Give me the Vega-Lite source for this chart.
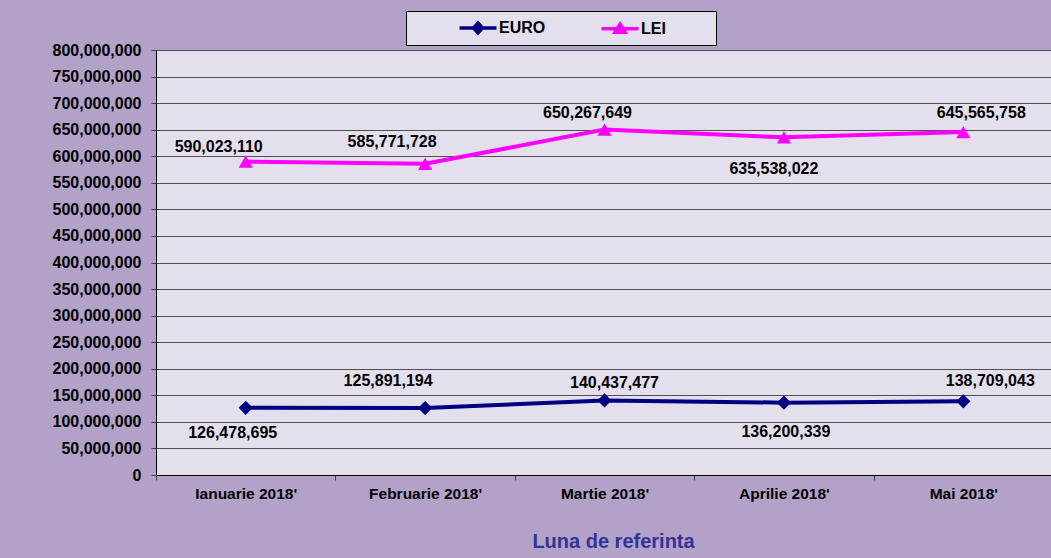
{
  "$schema": "https://vega.github.io/schema/vega-lite/v6.json",
  "autosize": {"type": "none"},
  "width": 897,
  "height": 425,
  "padding": {"left": 156, "top": 50, "right": 0, "bottom": 83},
  "background": "#B2A2C8",
  "config": {
    "font": "Liberation Sans",
    "view": {"fill": "#E4DFEC", "stroke": null}
  },
  "data": {
    "values": [
      {"month": "Ianuarie 2018'", "series": "EURO", "value": 126478695},
      {"month": "Februarie 2018'", "series": "EURO", "value": 125891194},
      {"month": "Martie 2018'", "series": "EURO", "value": 140437477},
      {"month": "Aprilie 2018'", "series": "EURO", "value": 136200339},
      {"month": "Mai 2018'", "series": "EURO", "value": 138709043},
      {"month": "Ianuarie 2018'", "series": "LEI", "value": 590023110},
      {"month": "Februarie 2018'", "series": "LEI", "value": 585771728},
      {"month": "Martie 2018'", "series": "LEI", "value": 650267649},
      {"month": "Aprilie 2018'", "series": "LEI", "value": 635538022},
      {"month": "Mai 2018'", "series": "LEI", "value": 645565758}
    ]
  },
  "encoding": {
    "x": {
      "field": "month",
      "type": "nominal",
      "sort": null,
      "scale": {"type": "band", "paddingInner": 0, "paddingOuter": 0},
      "axis": {
        "title": "Luna de referinta",
        "titleFont": "Liberation Sans",
        "titleFontSize": 20,
        "titleFontWeight": "bold",
        "titleColor": "#333399",
        "titlePadding": 30,
        "titleX": 457,
        "labelAngle": 0,
        "labelFont": "Liberation Sans",
        "labelFontSize": 15.5,
        "labelFontWeight": "bold",
        "labelColor": "#000000",
        "labelPadding": 6,
        "tickBand": "extent",
        "tickSize": 5,
        "tickColor": "#404040",
        "domainColor": "#000000",
        "domainWidth": 1,
        "grid": false
      }
    },
    "y": {
      "field": "value",
      "type": "quantitative",
      "scale": {"domain": [0, 800000000], "nice": false, "zero": true},
      "axis": {
        "title": null,
        "values": [0, 50000000, 100000000, 150000000, 200000000, 250000000, 300000000, 350000000, 400000000, 450000000, 500000000, 550000000, 600000000, 650000000, 700000000, 750000000, 800000000],
        "labelExpr": "format(datum.value, ',')",
        "labelFont": "Liberation Sans",
        "labelFontSize": 16,
        "labelFontWeight": "bold",
        "labelColor": "#000000",
        "labelPadding": 10,
        "tickSize": 5,
        "tickColor": "#404040",
        "domainColor": "#000000",
        "grid": true,
        "gridColor": "#505050",
        "gridWidth": 1
      }
    }
  },
  "layer": [
    {
      "mark": {"type": "line", "strokeWidth": 4},
      "encoding": {
        "color": {
          "field": "series",
          "type": "nominal",
          "scale": {"domain": ["EURO", "LEI"], "range": ["#000080", "#FF00FF"]},
          "legend": {
            "title": null,
            "orient": "none",
            "legendX": 250,
            "legendY": -39,
            "direction": "horizontal",
            "fillColor": "#E4DFEC",
            "strokeColor": "#000000",
            "padding": 5,
            "symbolSize": 400,
            "symbolOffset": 55,
            "labelOffset": 9,
            "columnPadding": 7,
            "labelFont": "Liberation Sans",
            "labelFontSize": 16,
            "labelFontWeight": "bold",
            "labelColor": "#000000",
            "labelExpr": "datum.label === 'LEI' ? 'LEI\u00a0\u00a0\u00a0\u00a0\u00a0\u00a0\u00a0\u00a0\u00a0\u00a0\u200b' : datum.label",
            "encode": {
              "symbols": {
                "update": {
                  "shape": {"signal": "datum.value === 'EURO' ? 'M-1.85,0L1.85,0M0,-0.5L0.45,0L0,0.5L-0.45,0Z' : 'M-1.85,0L1.85,0M0,-0.45L0.5,0.35L-0.5,0.35Z'"},
                  "fill": {"signal": "datum.value === 'EURO' ? '#000080' : '#FF00FF'"},
                  "stroke": {"signal": "datum.value === 'EURO' ? '#000080' : '#FF00FF'"},
                  "strokeWidth": {"value": 3.5},
                  "opacity": {"value": 1}
                }
              }
            }
          }
        }
      }
    },
    {
      "transform": [{"filter": "datum.series === 'EURO'"}],
      "mark": {"type": "point", "filled": true, "opacity": 1, "shape": "diamond", "size": 200, "color": "#000080"}
    },
    {
      "transform": [{"filter": "datum.series === 'LEI'"}],
      "mark": {"type": "point", "filled": true, "opacity": 1, "shape": "triangle-up", "size": 200, "color": "#FF00FF"}
    },
    {
      "transform": [{"filter": "datum.series === 'LEI' && datum.month === \"Ianuarie 2018'\""}],
      "mark": {"type": "text", "dx": -27, "dy": -15, "fontSize": 16, "fontWeight": "bold", "font": "Liberation Sans", "color": "#000000"},
      "encoding": {"text": {"field": "value", "type": "quantitative", "format": ","}}
    },
    {
      "transform": [{"filter": "datum.series === 'LEI' && datum.month === \"Februarie 2018'\""}],
      "mark": {"type": "text", "dx": -33, "dy": -22, "fontSize": 16, "fontWeight": "bold", "font": "Liberation Sans", "color": "#000000"},
      "encoding": {"text": {"field": "value", "type": "quantitative", "format": ","}}
    },
    {
      "transform": [{"filter": "datum.series === 'LEI' && datum.month === \"Martie 2018'\""}],
      "mark": {"type": "text", "dx": -17, "dy": -17, "fontSize": 16, "fontWeight": "bold", "font": "Liberation Sans", "color": "#000000"},
      "encoding": {"text": {"field": "value", "type": "quantitative", "format": ","}}
    },
    {
      "transform": [{"filter": "datum.series === 'LEI' && datum.month === \"Aprilie 2018'\""}],
      "mark": {"type": "text", "dx": -10, "dy": 32, "fontSize": 16, "fontWeight": "bold", "font": "Liberation Sans", "color": "#000000"},
      "encoding": {"text": {"field": "value", "type": "quantitative", "format": ","}}
    },
    {
      "transform": [{"filter": "datum.series === 'LEI' && datum.month === \"Mai 2018'\""}],
      "mark": {"type": "text", "dx": 18, "dy": -19, "fontSize": 16, "fontWeight": "bold", "font": "Liberation Sans", "color": "#000000"},
      "encoding": {"text": {"field": "value", "type": "quantitative", "format": ","}}
    },
    {
      "transform": [{"filter": "datum.series === 'EURO' && datum.month === \"Ianuarie 2018'\""}],
      "mark": {"type": "text", "dx": -13, "dy": 25, "fontSize": 16, "fontWeight": "bold", "font": "Liberation Sans", "color": "#000000"},
      "encoding": {"text": {"field": "value", "type": "quantitative", "format": ","}}
    },
    {
      "transform": [{"filter": "datum.series === 'EURO' && datum.month === \"Februarie 2018'\""}],
      "mark": {"type": "text", "dx": -37, "dy": -27, "fontSize": 16, "fontWeight": "bold", "font": "Liberation Sans", "color": "#000000"},
      "encoding": {"text": {"field": "value", "type": "quantitative", "format": ","}}
    },
    {
      "transform": [{"filter": "datum.series === 'EURO' && datum.month === \"Martie 2018'\""}],
      "mark": {"type": "text", "dx": 10, "dy": -17, "fontSize": 16, "fontWeight": "bold", "font": "Liberation Sans", "color": "#000000"},
      "encoding": {"text": {"field": "value", "type": "quantitative", "format": ","}}
    },
    {
      "transform": [{"filter": "datum.series === 'EURO' && datum.month === \"Aprilie 2018'\""}],
      "mark": {"type": "text", "dx": 2, "dy": 29, "fontSize": 16, "fontWeight": "bold", "font": "Liberation Sans", "color": "#000000"},
      "encoding": {"text": {"field": "value", "type": "quantitative", "format": ","}}
    },
    {
      "transform": [{"filter": "datum.series === 'EURO' && datum.month === \"Mai 2018'\""}],
      "mark": {"type": "text", "dx": 27, "dy": -20, "fontSize": 16, "fontWeight": "bold", "font": "Liberation Sans", "color": "#000000"},
      "encoding": {"text": {"field": "value", "type": "quantitative", "format": ","}}
    }
  ]
}
